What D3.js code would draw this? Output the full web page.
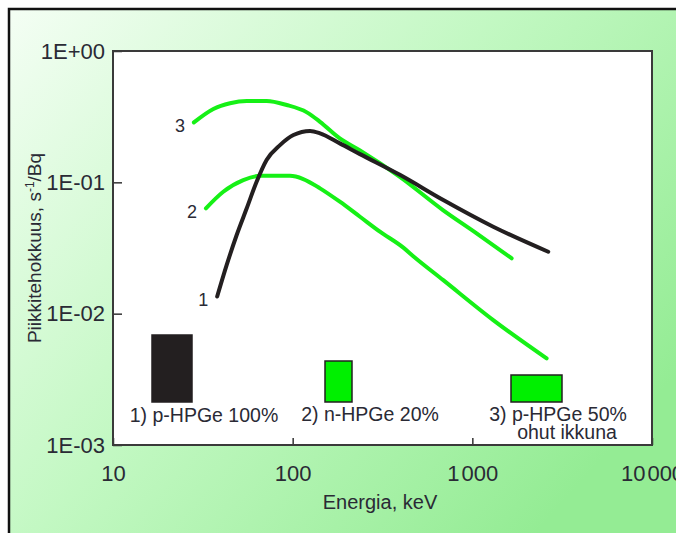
<!DOCTYPE html>
<html>
<head>
<meta charset="utf-8">
<script src="https://cdn.jsdelivr.net/npm/d3@7"></script>
<style>
  body { margin: 0; background: #fff; }
  svg { display: block; }
  text { font-family: "Liberation Sans", Arial, sans-serif; fill: #2a2a35; }
</style>
</head>
<body>
<svg width="676" height="533"></svg>
<script>
// axis ticks
var xTicks = [10, 100, 1000, 10000];
var xTickLabels = ["10", "100", "1 000", "10 000"];
var yTicks = [1, 0.1, 0.01, 0.001];
var yTickLabels = ["1E+00", "1E-01", "1E-02", "1E-03"];

// 1) p-HPGe 100%
var energy1 = [38, 42.9, 48.8, 55.5, 63, 71.6, 85, 101, 125, 142, 183, 237, 395, 689, 1307, 2645];
var eff1 = [0.0135, 0.0234, 0.0397, 0.0634, 0.101, 0.148, 0.192, 0.229, 0.246, 0.236, 0.198, 0.164, 0.114, 0.0733, 0.0459, 0.0296];

// 2) n-HPGe 20%
var energy2 = [32.9, 41.1, 53.1, 65.8, 96.6, 114.5, 142, 183, 237, 306, 413, 469, 689, 1307, 2591];
var eff2 = [0.0634, 0.0848, 0.104, 0.112, 0.112, 0.106, 0.090, 0.0712, 0.0547, 0.0421, 0.0318, 0.0274, 0.0180, 0.00894, 0.00457];

// 3) p-HPGe 50% ohut ikkuna
var energy3 = [28.2, 36.2, 44.8, 55.5, 71.6, 92.6, 120, 142, 183, 237, 395, 686, 1056, 1655];
var eff3 = [0.286, 0.362, 0.400, 0.416, 0.416, 0.388, 0.341, 0.289, 0.216, 0.175, 0.110, 0.0615, 0.0409, 0.0264];

var curveNames = ["1", "2", "3"];
var legendLabels = [["1) p-HPGe 100%"], ["2) n-HPGe 20%"], ["3) p-HPGe 50%", "ohut ikkuna"]];

var colors = ["#231f20", "#16f016", "#16f016"];

var svg = d3.select("svg");

// background panel
var defs = svg.append("defs");
var grad = defs.append("linearGradient")
    .attr("id", "bg")
    .attr("x1", 0).attr("y1", 0)
    .attr("x2", 1).attr("y2", 0.7);
grad.append("stop").attr("offset", 0).attr("stop-color", "#f4fef4");
grad.append("stop").attr("offset", 0.5).attr("stop-color", "#c2f8c2");
grad.append("stop").attr("offset", 1).attr("stop-color", "#94ec94");

svg.append("rect")
    .attr("x", 9).attr("y", 9)
    .attr("width", 667).attr("height", 524)
    .style("fill", "url(#bg)");
svg.append("path")
    .attr("d", "M9,533V9H676")
    .style("fill", "none")
    .style("stroke", "#111")
    .style("stroke-width", 2.5);

var x = d3.scaleLog().domain([10, 10000]).range([113, 652]);
var y = d3.scaleLog().domain([0.001, 1]).range([445, 51]);

// plot area
svg.append("rect")
    .attr("x", x(10)).attr("y", y(1))
    .attr("width", x(10000) - x(10))
    .attr("height", y(0.001) - y(1))
    .style("fill", "#fff");

var xAxis = svg.append("g")
    .attr("transform", "translate(0," + y(0.001) + ")")
    .call(d3.axisBottom(x)
        .tickValues(xTicks)
        .tickSize(-7)
        .tickPadding(20)
        .tickFormat(function(d, i) { return xTickLabels[i]; }));
var yAxis = svg.append("g")
    .attr("transform", "translate(" + x(10) + ",0)")
    .call(d3.axisLeft(y)
        .tickValues(yTicks)
        .tickSize(-9)
        .tickPadding(8)
        .tickFormat(function(d, i) { return yTickLabels[i]; }));

svg.selectAll(".domain").remove();
svg.selectAll(".tick line").style("stroke", "#333").style("stroke-width", 1.5);
svg.selectAll(".tick text")
    .style("font-size", "22px")
    .style("fill", "#2a2a35");

// narrow gap for thousands
xAxis.selectAll(".tick text").each(function() {
    var t = d3.select(this);
    var parts = t.text().split(" ");
    if (parts.length < 2) return;
    t.text(null);
    t.append("tspan").text(parts[0]);
    t.append("tspan").attr("dx", 2).text(parts[1]);
});

// frame
svg.append("rect")
    .attr("x", x(10)).attr("y", y(1))
    .attr("width", x(10000) - x(10))
    .attr("height", y(0.001) - y(1))
    .style("fill", "none")
    .style("stroke", "#3a3a3a")
    .style("stroke-width", 2);

// axis titles
svg.append("text")
    .attr("x", 380).attr("y", 509)
    .attr("text-anchor", "middle")
    .style("font-size", "20px")
    .text("Energia, keV");

var yTitle = svg.append("text")
    .attr("transform", "translate(41,248) rotate(-90)")
    .attr("text-anchor", "middle")
    .style("font-size", "19px");
yTitle.append("tspan").text("Piikkitehokkuus, s");
yTitle.append("tspan").attr("dy", -7).style("font-size", "12px").text("-1");
yTitle.append("tspan").attr("dy", 7).text("/Bq");

// curves
var series = [
    d3.zip(energy1, eff1),
    d3.zip(energy2, eff2),
    d3.zip(energy3, eff3)
];

var line = d3.line()
    .x(function(d) { return x(d[0]); })
    .y(function(d) { return y(d[1]); })
    .curve(d3.curveMonotoneX);

// green drawn first, black on top
[2, 1, 0].forEach(function(i) {
    svg.append("path")
        .datum(series[i])
        .attr("d", line)
        .style("fill", "none")
        .style("stroke", colors[i])
        .style("stroke-width", 4)
        .style("stroke-linecap", "round")
        .style("stroke-linejoin", "round");
});

series.forEach(function(s, i) {
    svg.append("text")
        .attr("x", x(s[0][0]) - 9)
        .attr("y", y(s[0][1]) + 3)
        .attr("dy", "0.35em")
        .attr("text-anchor", "end")
        .style("font-size", "18px")
        .text(curveNames[i]);
});

// legend boxes under each label
var legendLayout = [
    { bx: 152, by: 335, bw: 40, bh: 67, tx: 204, ty: 422 },
    { bx: 325, by: 361, bw: 27, bh: 41, tx: 370, ty: 421 },
    { bx: 511, by: 375, bw: 51, bh: 27, tx: 558, ty: 421 }
];

legendLayout.forEach(function(l, i) {
    svg.append("rect")
        .attr("x", l.bx).attr("y", l.by)
        .attr("width", l.bw).attr("height", l.bh)
        .style("fill", i == 0 ? "#231f20" : "#00f000")
        .style("stroke", "#231f20")
        .style("stroke-width", 1.5);
    var t = svg.append("text")
        .attr("y", l.ty)
        .attr("text-anchor", "middle")
        .style("font-size", "19.5px");
    legendLabels[i].forEach(function(s, j) {
        t.append("tspan")
            .attr("x", l.tx + j * 9)
            .attr("dy", j == 0 ? 0 : 17.5)
            .text(s);
    });
});
</script>
</body>
</html>
